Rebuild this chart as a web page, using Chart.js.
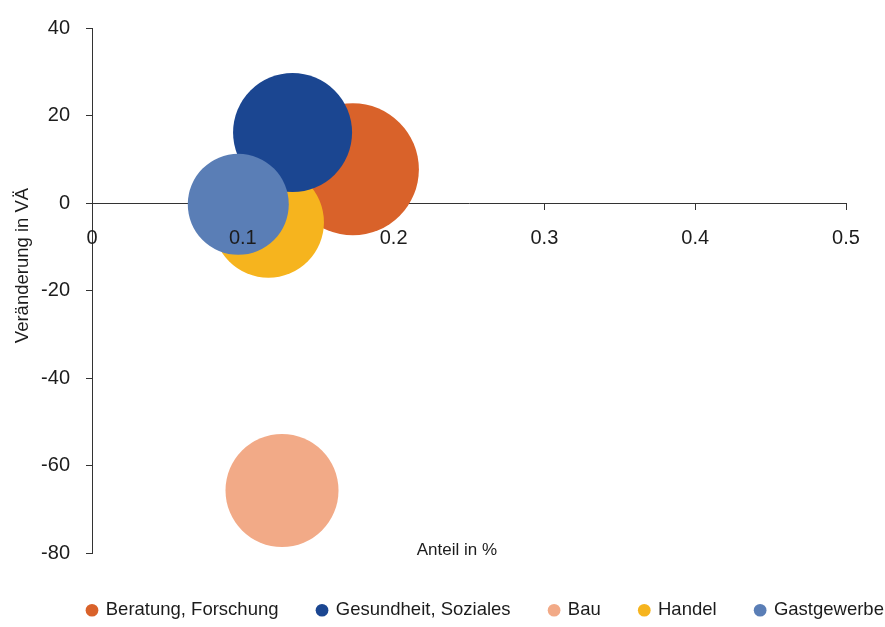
<!DOCTYPE html>
<html lang="de">
<head>
  <meta charset="UTF-8">
  <title>Anteil und Veränderung nach Branche</title>
  <script src="https://cdn.jsdelivr.net/npm/chart.js"></script>
  <style>
    html, body { margin: 0; padding: 0; background: #fff; }
    #wrap { width: 885px; height: 627px; }
  </style>
</head>
<body>
  <div id="wrap"><canvas id="bubbleChart"></canvas></div>

  <script>
    // Branchen, Anteil (x), Veränderung in VÄ (y), Blasengröße (r)
    const sectors = ['Beratung, Forschung', 'Gesundheit, Soziales', 'Bau', 'Handel', 'Gastgewerbe'];
    const share = [0.173, 0.133, 0.126, 0.117, 0.097];
    const change = [7.7, 16.1, -65.7, -4.4, -0.3];
    const bubbleSize = [66, 59.5, 56.5, 55.5, 50.5];
    const xTicks = [0, 0.1, 0.2, 0.3, 0.4, 0.5];
    const yTicks = [-80, -60, -40, -20, 0, 20, 40];

    const colors = ['#d9622a', '#1b4691', '#f2aa87', '#f6b41e', '#5a7eb6'];
    // drawing order: lower = on top
    const drawOrder = [3, 1, 4, 2, 0];

    const font = '"Liberation Sans", Arial, sans-serif';
    const ink = '#1c1c1c';

    const datasets = sectors.map((name, i) => ({
      label: name,
      data: [{ x: share[i], y: change[i], r: bubbleSize[i] }],
      backgroundColor: colors[i],
      borderWidth: 0,
      hoverRadius: 0,
      order: drawOrder[i]
    }));

    // axis titles sit apart from the axes, so they are drawn by hand
    const axisTitles = {
      id: 'axisTitles',
      afterLayout(chart) {
        // line the legend up with the y axis and drop it a little
        const lg = chart.legend;
        const pad = lg.options.labels.padding;
        const w = lg.right - lg.left;
        lg.left = chart.chartArea.left - pad - 4.5;
        lg.right = lg.left + w;
        lg.top += 9;
        lg.bottom += 9;
      },
      afterDraw(chart) {
        const ctx = chart.ctx;
        const area = chart.chartArea;
        ctx.save();
        ctx.fillStyle = ink;
        ctx.textAlign = 'center';
        ctx.textBaseline = 'middle';
        ctx.font = '17px ' + font;
        ctx.fillText('Anteil in %', chart.scales.x.getPixelForValue(0.242), area.bottom - 3);
        ctx.translate(23, (area.top + area.bottom) / 2 - 25);
        ctx.rotate(-Math.PI / 2);
        ctx.font = '18.5px ' + font;
        ctx.fillText('Veränderung in VÄ', 0, 0);
        ctx.restore();
      }
    };

    new Chart(document.getElementById('bubbleChart'), {
      type: 'bubble',
      data: { datasets: datasets },
      plugins: [axisTitles],
      options: {
        responsive: true,
        maintainAspectRatio: false,
        animation: false,
        events: [],
        layout: {
          autoPadding: false,
          padding: { top: 20.5, right: 0, bottom: 6.5, left: 0 }
        },
        scales: {
          x: {
            type: 'linear',
            position: { y: 0 },
            min: 0,
            max: 0.5,
            afterBuildTicks: s => { s.ticks = xTicks.map(v => ({ value: v })); },
            afterFit: s => {
              s.paddingLeft = 0;
              s.paddingRight = 39;
              s.paddingTop = 0;
              s.paddingBottom = 0;
            },
            grid: { drawOnChartArea: false, tickLength: 6, color: '#333' },
            border: { color: '#333', width: 1, z: 0 },
            ticks: {
              z: 1,
              padding: 17,
              color: ink,
              font: { family: font, size: 20 },
              maxRotation: 0,
              callback: v => String(v)
            }
          },
          y: {
            type: 'linear',
            min: -80,
            max: 40,
            afterBuildTicks: s => { s.ticks = yTicks.map(v => ({ value: v })); },
            afterFit: s => { s.width = 92; },
            grid: { drawOnChartArea: false, tickLength: 6, color: '#333' },
            border: { color: '#333', width: 1 },
            ticks: {
              padding: 16,
              color: ink,
              font: { family: font, size: 20 }
            }
          }
        },
        plugins: {
          tooltip: { enabled: false },
          legend: {
            position: 'bottom',
            align: 'start',
            labels: {
              usePointStyle: true,
              pointStyle: 'circle',
              boxWidth: 9,
              boxHeight: 9,
              padding: 39,
              color: ink,
              font: { family: font, size: 18.5 },
              sort: (a, b) => a.datasetIndex - b.datasetIndex
            }
          }
        }
      }
    });
  </script>
</body>
</html>
